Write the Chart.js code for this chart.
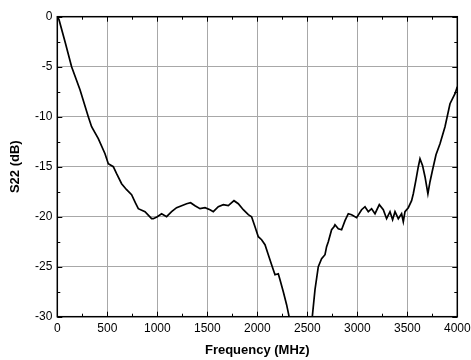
<!DOCTYPE html>
<html>
<head>
<meta charset="utf-8">
<script src="https://cdn.jsdelivr.net/npm/chart.js@4"></script>
<style>
  html, body { margin: 0; padding: 0; background: #fff; }
  #wrap { width: 471px; height: 360px; }
</style>
</head>
<body>
<div id="wrap"><canvas id="grafico"></canvas></div>
<script>
// Curva S22 (MHz, dB); null = trecho fora da escala (< -30 dB)
const freq = [
  0, 17, 80, 143, 227, 310, 343, 410, 477, 510, 560, 593, 643, 693, 743, 780, 810, 877, 943, 960,
  1000, 1043, 1093, 1143, 1193, 1243, 1293, 1333, 1377, 1427, 1477, 1527, 1560, 1610, 1660, 1710,
  1767, 1810, 1860, 1910, 1943, 1977, 2010, 2043, 2077, 2110, 2143, 2177, 2210, 2227, 2260, 2293,
  2318, 2430,
  2550, 2577, 2610, 2643, 2677, 2693, 2710, 2743, 2767, 2777, 2810, 2843, 2877, 2910, 2943, 2993,
  3043, 3077, 3110, 3143, 3177, 3220, 3260, 3293, 3327, 3353, 3377, 3410, 3443, 3460, 3477, 3510,
  3543, 3560, 3587, 3610, 3627, 3653, 3677, 3706, 3727, 3753, 3787, 3827, 3877, 3927, 3977, 4000
];
const s22 = [
  0, -0.3, -2.6, -5, -7.3, -10, -11, -12.2, -13.7, -14.7, -15, -15.7, -16.7, -17.3, -17.8, -18.6, -19.2, -19.5, -20.2, -20.2,
  -20, -19.7, -20, -19.5, -19.1, -18.9, -18.7, -18.6, -18.9, -19.2, -19.1, -19.3, -19.5, -19, -18.8, -18.9,
  -18.4, -18.7, -19.3, -19.8, -20, -21, -22, -22.3, -22.8, -23.8, -24.8, -25.8, -25.7, -26.3, -27.5, -28.8,
  -30, null,
  -30, -27.3, -25, -24.2, -23.8, -23, -22.5, -21.3, -21, -20.8, -21.2, -21.3, -20.4, -19.7, -19.8, -20.1,
  -19.3, -19, -19.5, -19.2, -19.7, -18.8, -19.3, -20.2, -19.5, -20.3, -19.5, -20.2, -19.7, -20.5, -19.5, -19.1,
  -18.4, -17.7, -16.3, -15, -14.2, -14.9, -16, -17.7, -16.5, -15.3, -13.8, -12.7, -11, -8.7, -7.7, -7
];

const xMin = 0, xMax = 4000, xStep = 500;
const yMin = -30, yMax = 0, yStep = 5;

const pontos = freq.map((f, i) => ({ x: f, y: s22[i] }));

// Moldura e marcas internas (principais e secundárias) nos quatro lados
const molduraPlugin = {
    id: 'moldura',
    afterDraw(chart) {
        const { ctx, chartArea: a, scales: { x, y } } = chart;
        ctx.save();
        ctx.strokeStyle = '#000';
        ctx.lineWidth = 1;
        for (let v = xMin; v <= xMax; v += xStep / 2) {
            const px = Math.round(x.getPixelForValue(v)) + 0.5;
            const len = v % xStep === 0 ? 5 : 3;
            ctx.beginPath();
            ctx.moveTo(px, a.bottom); ctx.lineTo(px, a.bottom - len);
            ctx.moveTo(px, a.top); ctx.lineTo(px, a.top + len);
            ctx.stroke();
        }
        for (let v = yMin; v <= yMax; v += yStep / 2) {
            const py = Math.round(y.getPixelForValue(v)) + 0.5;
            const len = v % yStep === 0 ? 5 : 3;
            ctx.beginPath();
            ctx.moveTo(a.left, py); ctx.lineTo(a.left + len, py);
            ctx.moveTo(a.right, py); ctx.lineTo(a.right - len, py);
            ctx.stroke();
        }
        ctx.lineWidth = 1.5;
        ctx.strokeRect(a.left, a.top, a.right - a.left, a.bottom - a.top);
        ctx.restore();
    }
};

new Chart(document.getElementById('grafico'), {
    type: 'line',
    data: {
        datasets: [{
            data: pontos,
            borderColor: '#000',
            borderWidth: 1.7,
            pointRadius: 0,
            tension: 0,
            spanGaps: false,
        }],
    },
    options: {
        responsive: true,
        maintainAspectRatio: false,
        animation: false,
        layout: { padding: { top: 16.7, right: 13.7, left: 0, bottom: 0 } },
        plugins: { legend: { display: false }, tooltip: { enabled: false } },
        scales: {
            x: {
                type: 'linear',
                min: xMin,
                max: xMax,
                ticks: { stepSize: xStep, color: '#000', padding: 5, maxRotation: 0,
                         callback: v => String(v),
                         font: { family: 'Liberation Sans, Arial', size: 12 } },
                grid: { color: '#a8a8a8', lineWidth: 1, drawTicks: false },
                border: { display: false },
                title: { display: true, text: 'Frequency (MHz)', color: '#000', padding: { top: 0, bottom: 2 },
                         font: { family: 'Liberation Sans, Arial', size: 13, weight: 'bold' } },
                afterFit(scale) {
                    scale.height = 43.3;
                    scale.paddingLeft = 0;
                    scale.paddingRight = 0;
                },
            },
            y: {
                min: yMin,
                max: yMax,
                ticks: { stepSize: yStep, color: '#000', padding: 5,
                         callback: v => String(v),
                         font: { family: 'Liberation Sans, Arial', size: 12 } },
                grid: { color: '#a8a8a8', lineWidth: 1, drawTicks: false },
                border: { display: false },
                title: { display: true, text: 'S22 (dB)', color: '#000', padding: { top: 8, bottom: 0 },
                         font: { family: 'Liberation Sans, Arial', size: 13, weight: 'bold' } },
                afterFit(scale) {
                    scale.width = 57.3;
                    scale.paddingTop = 0;
                    scale.paddingBottom = 0;
                },
            },
        },
    },
    plugins: [molduraPlugin],
});
</script>
</body>
</html>
